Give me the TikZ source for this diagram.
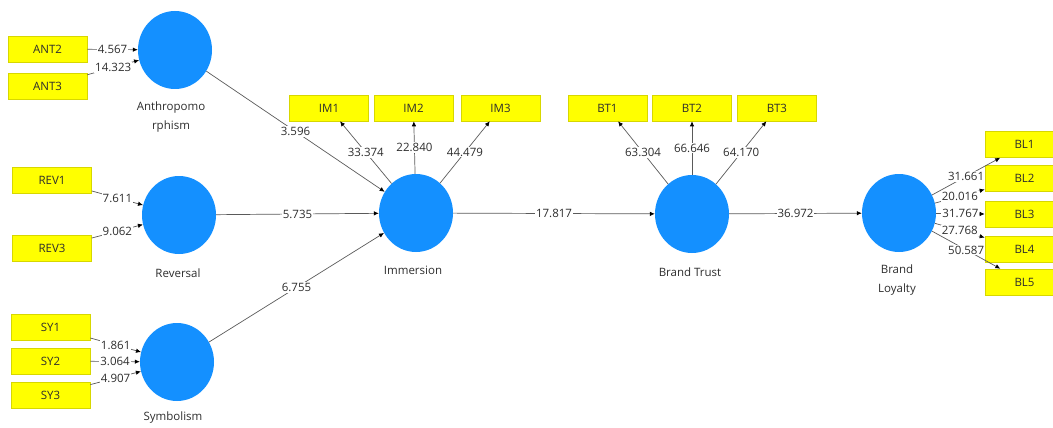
\documentclass[tikz,border=0pt]{standalone}
\usepackage{fontspec}
\setmainfont{Open Sans}
\usetikzlibrary{arrows.meta,shapes.geometric}
\definecolor{plsblue}{RGB}{20,144,255}
\definecolor{plsyellow}{RGB}{255,255,0}
\definecolor{plsedge}{RGB}{215,215,0}
\definecolor{plsline}{RGB}{90,90,90}
\definecolor{plstext}{RGB}{45,45,45}

\begin{document}
\begin{tikzpicture}[x=1pt, y=-1pt,
	every node/.append style={font=\fontsize{11.5}{14}\selectfont, text=plstext},
	latent/.style={ellipse, fill=plsblue, minimum width=74pt, minimum height=78pt, inner sep=0pt},
	indicator/.style={rectangle, fill=plsyellow, draw=plsedge, line width=0.6pt, minimum width=79pt, minimum height=26pt, inner sep=0pt},
	lvname/.style={align=center, font=\fontsize{11.5}{19}\selectfont},
	link/.style={draw=plsline, line width=0.7pt, -{Latex[length=5pt, width=4.5pt, black]}},
	coef/.style={midway, fill=white, inner sep=1pt}]
			%%%%% START %%%%%
			
			\useasboundingbox (0,0) rectangle (1053,428);
			
			% latent variables
			\node[latent] (ant) at (175,50) {};
			\node[latent] (rev) at (179,215) {};
			\node[latent] (sym) at (177,362) {};
			\node[latent] (imm) at (416,213) {};
			\node[latent] (bt) at (692,214) {};
			\node[latent] (bl) at (899,213) {};
			
			\node[lvname] (antname) at (171,117) {Anthropomo\\rphism};
			\node[lvname] (revname) at (178,273) {Reversal};
			\node[lvname] (symname) at (173,418) {Symbolism};
			\node[lvname] (immname) at (413,270) {Immersion};
			\node[lvname] (btname) at (690,272) {Brand Trust};
			\node[lvname] (blname) at (897,280) {Brand\\Loyalty};
			
			% indicators
			\node[indicator] (ant2) at (47.5,49) {ANT2};
			\node[indicator] (ant3) at (47.5,86) {ANT3};
			
			\node[indicator] (rev1) at (52,180) {REV1};
			\node[indicator] (rev3) at (52,248.5) {REV3};
			
			\node[indicator] (sy1) at (50.5,327) {SY1};
			\node[indicator] (sy2) at (50.5,361) {SY2};
			\node[indicator] (sy3) at (50.5,395) {SY3};
			
			\node[indicator] (im1) at (329,108) {IM1};
			\node[indicator] (im2) at (413.5,108) {IM2};
			\node[indicator] (im3) at (500.5,108) {IM3};
			
			\node[indicator] (bt1) at (607.5,108) {BT1};
			\node[indicator] (bt2) at (692,108) {BT2};
			\node[indicator] (bt3) at (777,108) {BT3};
			
			\node[indicator] (bl1) at (1024.5,144.5) {BL1};
			\node[indicator] (bl2) at (1024.5,178.5) {BL2};
			\node[indicator] (bl3) at (1024.5,214.5) {BL3};
			\node[indicator] (bl4) at (1024.5,249) {BL4};
			\node[indicator] (bl5) at (1024.5,282) {BL5};
			
			% formative weights
			\draw[link] (ant2) -- node[coef] {4.567} (ant);
			\draw[link] (ant3) -- node[coef] {14.323} (ant);
			\draw[link] (rev1) -- node[coef] {7.611} (rev);
			\draw[link] (rev3) -- node[coef] {9.062} (rev);
			\draw[link] (sy1) -- node[coef] {1.861} (sym);
			\draw[link] (sy2) -- node[coef] {3.064} (sym);
			\draw[link] (sy3) -- node[coef] {4.907} (sym);
			
			% reflective loadings
			\draw[link] (imm) -- node[coef] {33.374} (im1);
			\draw[link] (imm) -- node[coef] {22.840} (im2);
			\draw[link] (imm) -- node[coef] {44.479} (im3);
			\draw[link] (bt) -- node[coef] {63.304} (bt1);
			\draw[link] (bt) -- node[coef] {66.646} (bt2);
			\draw[link] (bt) -- node[coef] {64.170} (bt3);
			\draw[link] (bl) -- node[coef] {31.661} (bl1);
			\draw[link] (bl) -- node[coef] {20.016} (bl2);
			\draw[link] (bl) -- node[coef] {31.767} (bl3);
			\draw[link] (bl) -- node[coef] {27.768} (bl4);
			\draw[link] (bl) -- node[coef] {50.587} (bl5);
			
			% structural paths
			\draw[link] (ant) -- node[coef] {3.596} (imm);
			\draw[link] (rev) -- node[coef] {5.735} (imm);
			\draw[link] (sym) -- node[coef] {6.755} (imm);
			\draw[link] (imm) -- node[coef] {17.817} (bt);
			\draw[link] (bt) -- node[coef] {36.972} (bl);
			
			%%%%% END %%%%%
\end{tikzpicture}
\end{document}
